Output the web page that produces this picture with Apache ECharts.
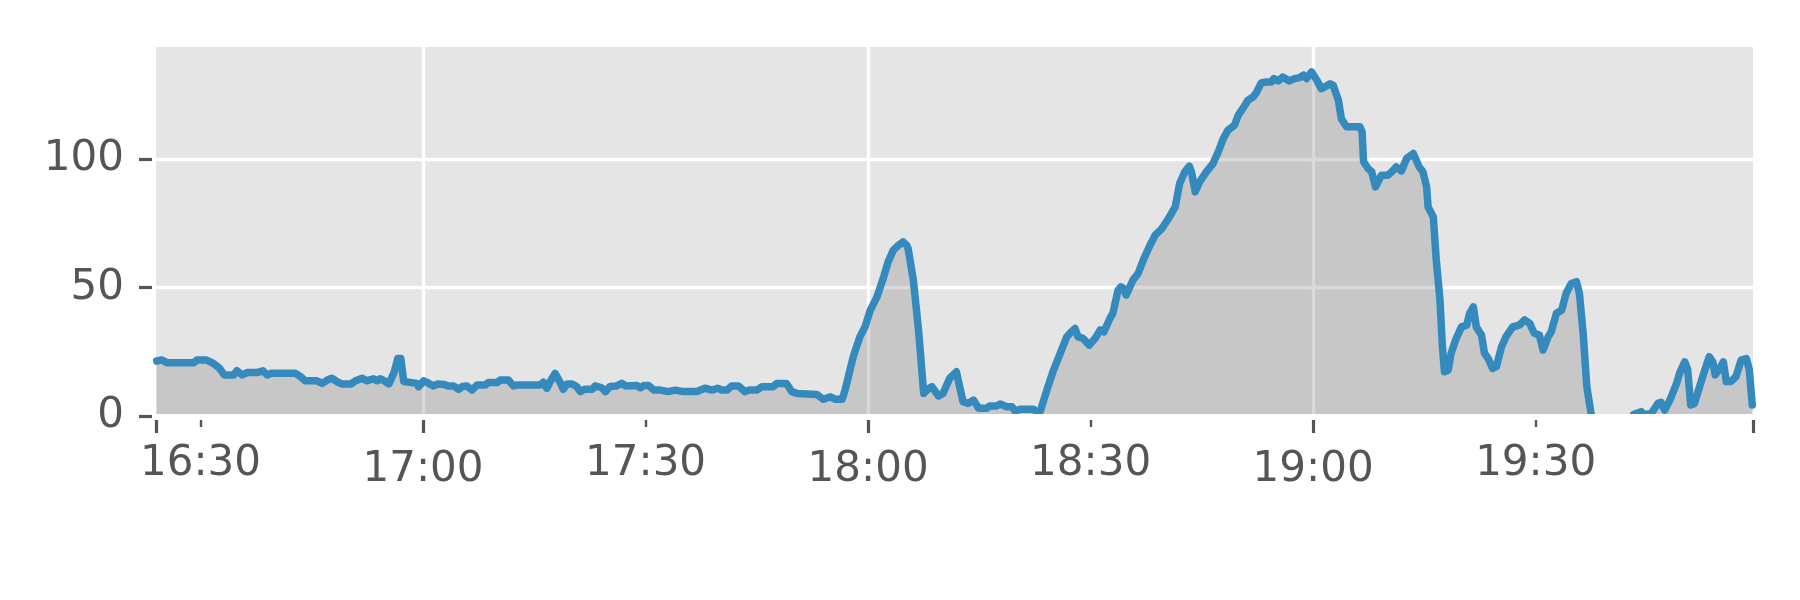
<!DOCTYPE html>
<html>
<head>
<meta charset="utf-8">
<style>
    html, body { margin: 0; padding: 0; background: #fff; }
    #chart { width: 1800px; height: 600px; }
</style>
<script src="https://cdn.jsdelivr.net/npm/echarts@6/dist/echarts.min.js"></script>
</head>
<body>
<div id="chart"></div>
<script>
// time in minutes after 16:00
var minutes = [
    24.1, 24.8, 25.5, 29.1, 29.5, 30.8, 31.6, 32.5, 33.2, 34.5, 34.9, 35.6, 36.3, 37.6, 38.4, 39.0, 39.5,
    42.8, 43.5, 44.1, 45.7, 46.4, 47.1, 47.7, 48.4, 49.0, 50.3, 50.9, 51.8, 52.4, 53.3, 53.8, 54.2, 54.8,
    55.4, 56.1, 56.6, 57.0, 57.4, 57.6, 59.2, 59.4, 60.1, 60.8, 61.4, 62.0, 62.8, 63.4, 64.1, 64.8, 65.3,
    65.9, 66.6, 67.3, 68.4, 68.8, 70.0, 70.4, 71.5, 72.2, 72.7, 75.8, 76.2, 76.7, 77.1, 77.8, 78.5, 78.9,
    79.4, 80.1, 80.7, 81.2, 81.8, 82.8, 83.2, 84.1, 84.6, 85.2, 86.1, 86.8, 87.3, 88.8, 89.3, 89.8, 90.4,
    91.1, 92.0, 93.0, 94.0, 95.1, 96.9, 97.4, 98.0, 99.0, 99.7, 100.3, 101.0, 101.6, 102.5, 103.4, 104.0,
    105.0, 105.7, 107.2, 107.7, 109.0, 109.7, 110.4, 113.1, 113.5, 114.0, 114.9, 115.6, 116.5, 116.9,
    118.0, 118.9, 119.6, 120.3, 121.2, 122.1, 122.7, 123.4, 124.1, 124.7, 125.2, 125.4, 126.1, 126.8,
    127.5, 128.1, 128.6, 129.5, 130.1, 131.0, 131.9, 132.8, 133.5, 134.2, 134.9, 136.0, 136.4, 137.3,
    137.8, 138.7, 139.4, 139.8, 140.5, 142.3, 142.7, 143.2, 144.1, 145.0, 145.9, 146.8, 147.4, 147.9,
    148.3, 149.0, 149.8, 150.6, 151.3, 151.8, 152.6, 153.0, 153.7, 154.1, 154.4, 154.8, 155.7, 156.4,
    157.1, 158.0, 158.7, 159.6, 160.5, 161.4, 162.0, 162.7, 163.3, 163.6, 164.1, 164.7, 165.6, 166.5,
    167.2, 167.9, 168.5, 169.4, 169.9, 170.8, 171.2, 171.9, 172.4, 173.0, 173.7, 174.4, 174.7, 175.3,
    175.9, 176.8, 177.5, 178.2, 178.7, 179.1, 179.8, 180.5, 181.1, 181.6, 182.3, 182.7, 183.4, 183.8,
    184.5, 186.3, 186.6, 186.8, 187.4, 187.9, 188.4, 189.2, 190.1, 190.8, 191.2, 191.9, 192.6, 193.5,
    193.9, 194.3, 194.8, 195.3, 195.5, 196.2, 196.6, 197.1, 197.4, 197.7, 198.2, 198.6, 199.2, 200.0,
    200.7, 201.1, 201.6, 202.0, 202.7, 203.1, 203.6, 204.2, 204.7, 205.4, 206.0, 206.9, 207.8, 208.5,
    209.2, 209.8, 210.5, 211.0, 211.7, 212.1, 212.8, 213.5, 214.1, 214.8, 215.5, 215.9, 216.4, 216.9,
    217.5, 218.3, 220.0, 222.0, 222.8, 223.2, 224.2, 224.7, 225.6, 226.5, 226.9, 227.4, 228.1, 229.0,
    229.4, 230.1, 230.5, 230.9, 231.4, 232.1, 232.8, 233.4, 233.9, 234.2, 234.8, 235.3, 235.7, 236.3,
    237.0, 237.7, 238.4, 238.8, 239.2
];
var values = [
    21.4, 21.8, 20.7, 20.7, 21.8, 21.8, 20.7, 18.8, 16.0, 16.0, 17.6, 16.0, 16.9, 16.9, 17.6, 16.0, 16.6,
    16.6, 15.3, 13.7, 13.7, 12.7, 14.0, 14.7, 13.4, 12.5, 12.5, 13.7, 14.7, 13.7, 14.5, 13.7, 14.5, 13.7,
    12.5, 17.0, 22.4, 22.4, 13.4, 12.7, 12.7, 11.4, 13.7, 12.7, 11.7, 12.5, 12.3, 11.7, 11.7, 10.4, 11.5,
    11.7, 10.1, 12.1, 12.1, 13.0, 13.0, 14.0, 14.0, 11.7, 12.1, 12.1, 13.2, 10.8, 13.2, 16.6, 13.0, 10.4,
    12.5, 12.5, 11.5, 9.5, 10.4, 10.4, 11.7, 11.0, 9.5, 11.5, 11.7, 12.7, 11.7, 11.9, 11.0, 11.9, 11.9,
    10.1, 10.1, 9.5, 10.1, 9.5, 9.5, 10.1, 10.8, 10.1, 10.8, 10.1, 10.1, 11.7, 11.7, 9.5, 10.1,
    10.1, 11.4, 11.4, 12.7, 12.7, 9.5, 8.8, 8.4, 7.5, 6.5, 7.5, 6.5, 6.5, 10.1,
    23.1, 30.9, 34.8, 41.2, 46.4, 54.2, 60.0, 64.6, 66.5, 67.8, 66.5, 65.2, 52.9, 33.5,
    8.8, 10.5, 11.4, 7.8, 8.8, 14.7, 17.2, 5.6, 4.9, 6.2, 3.0, 3.0, 3.9, 3.9,
    4.7, 3.6, 3.6, 1.9, 2.6, 2.6, 1.7, 1.7, 10.1, 17.9, 24.4, 30.9, 32.8, 34.1,
    30.9, 30.2, 27.6, 30.2, 33.5, 32.8, 38.0, 40.0, 49.0, 50.3, 49.7, 47.1, 52.9, 55.5,
    60.7, 66.5, 70.4, 73.0, 76.9, 81.4, 90.5, 95.1, 97.3, 95.0, 87.3, 91.2, 95.1, 98.3,
    102.8, 108.1, 111.3, 113.2, 117.1, 121.0, 123.0, 124.2, 126.2, 129.7, 130.1, 130.1, 131.4, 130.5,
    132.0, 130.5, 131.4, 131.8, 132.7, 131.4, 134.0, 130.7, 127.5, 128.2, 129.4, 128.8, 123.0, 115.8,
    112.6, 112.6, 110.6, 99.0, 96.4, 95.1, 89.2, 93.8, 93.8, 95.7, 97.0, 95.4, 100.3, 102.2,
    99.6, 97.0, 95.1, 89.2, 81.4, 77.5, 60.7, 45.1, 28.3, 17.2, 17.9, 24.4, 29.6, 34.7,
    35.4, 40.0, 42.5, 34.7, 31.5, 24.4, 22.4, 18.5, 19.2, 27.0, 30.9, 34.7, 35.4, 37.4,
    36.1, 32.2, 31.5, 25.7, 30.9, 32.8, 40.0, 41.2, 47.7, 51.6, 52.3, 47.7, 32.2, 11.4,
    0.4, -20, -30, -15, -2, 0.6, 1.7, 0.5, 1.0, 4.9, 5.3, 2.3, 6.2, 12.7,
    16.6, 21.1, 18.0, 4.3, 4.9, 11.4, 17.9, 23.1, 21.0, 16.0, 18.5, 21.1, 13.4, 13.4,
    15.3, 21.8, 22.4, 18.0, 4.3
];
var xStart = 24;
var xEnd = 239.3;
var majorTicks = [60, 120, 180];
var minorTicks = [30, 90, 150, 210];
var yTicks = [0, 50, 100];
var yMax = 143.7;

var textColor = '#555555';
var fontFamily = 'DejaVu Sans';

function timeLabel(v) {
    var h = 16 + Math.floor(v / 60);
    var m = Math.round(v % 60);
    return h + ':' + (m < 10 ? '0' : '') + m;
}

var points = minutes.map(function (t, i) { return [t, values[i]]; });

function xAxisOf(ticks, tickLen, tickWidth, labelMargin, showLabel, showGrid) {
    return {
        type: 'value',
        position: 'bottom',
        min: xStart,
        max: xEnd,
        offset: 4,
        axisLine: { show: false, onZero: false },
        axisTick: { show: true, customValues: ticks, length: tickLen, lineStyle: { color: textColor, width: tickWidth } },
        axisLabel: {
            show: showLabel,
            customValues: ticks,
            margin: labelMargin,
            color: textColor,
            fontSize: 42,
            fontFamily: fontFamily,
            formatter: timeLabel
        },
        splitLine: { show: showGrid, lineStyle: { color: '#ffffff', width: 3.4 } }
    };
}

var chart = echarts.init(document.getElementById('chart'));
chart.setOption({
    animation: false,
    backgroundColor: '#ffffff',
    grid: {
        left: 156,
        right: 47,
        top: 47,
        bottom: 184,
        show: true,
        backgroundColor: '#E5E5E5',
        borderWidth: 0
    },
    xAxis: [
        xAxisOf(majorTicks, 13, 3.2, 29, true, true),
        xAxisOf(minorTicks, 7, 2.4, 23, true, false),
        xAxisOf([xStart, xEnd], 13, 3.2, 20, false, false),
        // white bottom spine drawn above the series, like the matplotlib axes edge
        {
            type: 'value',
            position: 'bottom',
            min: xStart,
            max: xEnd,
            offset: 1,
            z: 10,
            axisLine: { show: true, onZero: false, lineStyle: { color: '#ffffff', width: 6 } },
            axisTick: { show: false },
            axisLabel: { show: false },
            splitLine: { show: false }
        }
    ],
    yAxis: {
        type: 'value',
        min: 0,
        max: yMax,
        offset: 4,
        axisLine: { show: false, onZero: false },
        axisTick: { show: true, customValues: yTicks, length: 13, lineStyle: { color: textColor, width: 3.2 } },
        axisLabel: {
            customValues: yTicks,
            margin: 28,
            color: textColor,
            fontSize: 42,
            fontFamily: fontFamily
        },
        splitLine: { show: true, lineStyle: { color: '#ffffff', width: 3.4 } }
    },
    series: [{
        type: 'line',
        xAxisIndex: 0,
        data: points,
        showSymbol: false,
        clip: true,
        lineStyle: { color: '#348ABD', width: 7.5, join: 'round', cap: 'round' },
        areaStyle: { color: 'rgba(128,128,128,0.3)', opacity: 1 }
    }]
});
</script>
</body>
</html>
